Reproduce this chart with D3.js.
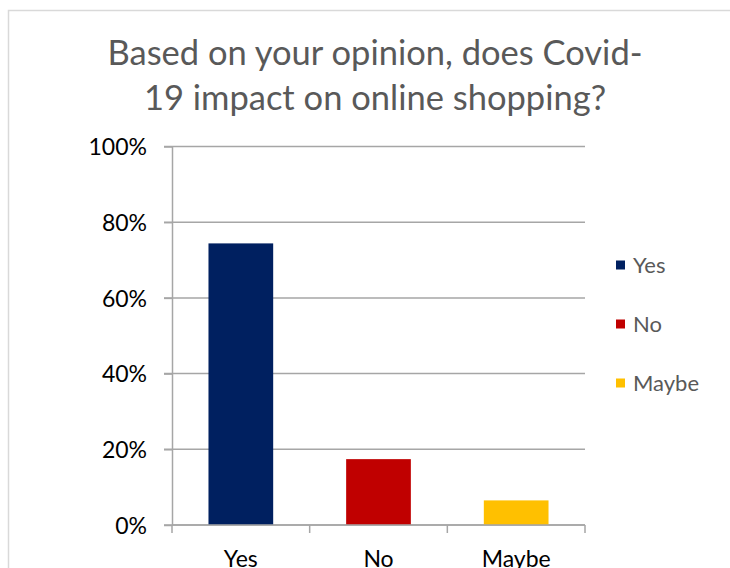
<!DOCTYPE html>
<html>
<head>
<meta charset="utf-8">
<script src="https://cdn.jsdelivr.net/npm/d3@7"></script>
<style>
  html, body { margin: 0; padding: 0; background: #fff; overflow: hidden; }
  svg { display: block; font-family: Lato, "Open Sans", sans-serif; }
</style>
</head>
<body>
<svg id="chart" width="730" height="568"></svg>
<script>
const titleLines = ["Based on your opinion, does Covid-", "19 impact on online shopping?"];
const categories = ["Yes", "No", "Maybe"];
const values = [74.4, 17.4, 6.5];
const colors = ["#002060", "#C00000", "#FFC000"];
const yTicks = [0, 20, 40, 60, 80, 100];

const svg = d3.select("#chart");

// chart area border
svg.append("rect")
  .attr("x", 8.5).attr("y", 10.5)
  .attr("width", 740).attr("height", 600)
  .attr("fill", "#fff").attr("stroke", "#d9d9d9").attr("stroke-width", 1.5);

// title
svg.append("g").selectAll("text").data(titleLines).join("text")
  .attr("x", 375).attr("y", (d, i) => 65 + i * 45)
  .attr("text-anchor", "middle")
  .attr("fill", "#595959")
  .style("font-size", "34.5px")
  .text(d => d);

const x = d3.scaleBand().domain(categories).range([172, 585])
  .paddingInner(0.53).paddingOuter(0.265);
const y = d3.scaleLinear().domain([0, 100]).range([525, 146.5]);

const gridColor = "#a6a6a6";

// gridlines
svg.append("g").selectAll("line").data(yTicks).join("line")
  .attr("x1", 164).attr("x2", 585)
  .attr("y1", d => y(d)).attr("y2", d => y(d))
  .attr("stroke", gridColor).attr("stroke-width", 1.5);

// y axis
const yAxis = svg.append("g").attr("transform", "translate(172,0)")
  .call(d3.axisLeft(y).tickValues(yTicks).tickFormat(d => d + "%")
    .tickSize(8).tickSizeOuter(0).tickPadding(17));
yAxis.select(".domain").attr("stroke", gridColor).attr("stroke-width", 1.5);
yAxis.selectAll(".tick line").attr("stroke", gridColor).attr("stroke-width", 1.5);
yAxis.selectAll(".tick text")
  .attr("fill", "#000").style("font-size", "23px").style("font-family", "Lato, 'Open Sans', sans-serif")
  .attr("dy", "0.36em");

// bars
svg.append("g").selectAll("rect").data(categories).join("rect")
  .attr("x", d => x(d))
  .attr("width", x.bandwidth())
  .attr("y", (d, i) => y(values[i]))
  .attr("height", (d, i) => y(0) - y(values[i]))
  .attr("fill", (d, i) => colors[i]);

// x axis line and boundary ticks
const xg = svg.append("g");
xg.append("line")
  .attr("x1", x.range()[0]).attr("x2", x.range()[1])
  .attr("y1", y(0)).attr("y2", y(0))
  .attr("stroke", gridColor).attr("stroke-width", 1.5);
const bounds = d3.range(categories.length + 1).map(i => x.range()[0] + i * x.step());
xg.selectAll("line.tk").data(bounds).join("line").attr("class", "tk")
  .attr("x1", d => d).attr("x2", d => d)
  .attr("y1", y(0)).attr("y2", y(0) + 8)
  .attr("stroke", gridColor).attr("stroke-width", 1.5);
xg.selectAll("text").data(categories).join("text")
  .attr("x", d => x(d) + x.bandwidth() / 2)
  .attr("y", 567)
  .attr("text-anchor", "middle")
  .attr("fill", "#000")
  .style("font-size", "23px")
  .text(d => d);

// legend
const lg = svg.append("g").selectAll("g").data(categories).join("g")
  .attr("transform", (d, i) => `translate(616,${265 + i * 59})`);
lg.append("rect").attr("x", 0).attr("y", -4.5).attr("width", 9).attr("height", 9)
  .attr("fill", (d, i) => colors[i]);
lg.append("text").attr("x", 17).attr("y", 0).attr("dy", "0.36em")
  .attr("fill", "#595959").style("font-size", "22px")
  .text(d => d);
</script>
</body>
</html>
